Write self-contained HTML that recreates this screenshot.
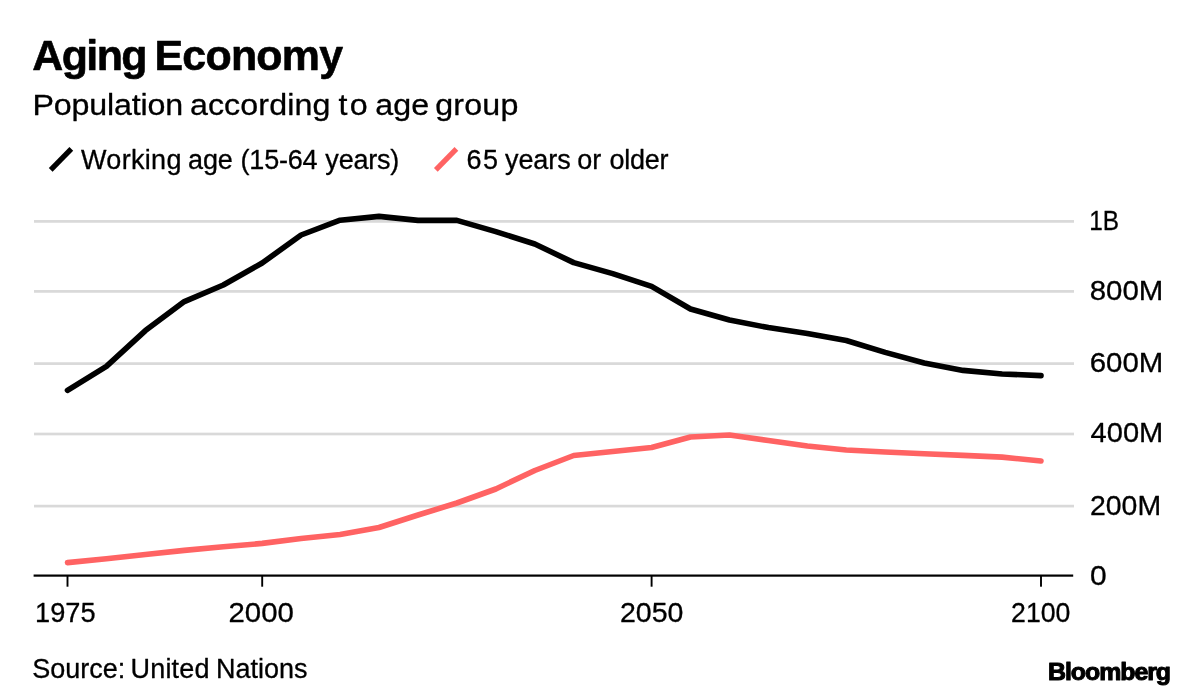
<!DOCTYPE html>
<html lang="en">
<head>
<meta charset="utf-8">
<title>Aging Economy</title>
<style>
html,body{margin:0;padding:0;background:#fff;}
body{width:1200px;height:700px;overflow:hidden;position:relative;}
svg{position:absolute;left:0;top:0;display:block;}
text{font-family:"Liberation Sans",sans-serif;fill:#000;white-space:pre;stroke:#000;stroke-width:0.3px;stroke-linejoin:round;}
</style>
</head>
<body>
<svg width="1200" height="700" viewBox="0 0 1200 700">
<rect width="1200" height="700" fill="#fff"/>
<g id="grid">
<rect x="34" y="220.05" width="1040" height="2.70" fill="#d9d9d9"/>
<rect x="34" y="290.05" width="1040" height="2.70" fill="#d9d9d9"/>
<rect x="34" y="362.25" width="1040" height="2.70" fill="#d9d9d9"/>
<rect x="34" y="432.65" width="1040" height="2.70" fill="#d9d9d9"/>
<rect x="34" y="504.75" width="1040" height="2.70" fill="#d9d9d9"/>
</g>
<g id="axis">
<rect x="33.6" y="574.5" width="1039.6" height="2.2" fill="#000"/>
<rect x="66.55" y="575" width="1.9" height="11.7" fill="#000"/>
<rect x="261.25" y="575" width="1.9" height="11.7" fill="#000"/>
<rect x="650.65" y="575" width="1.9" height="11.7" fill="#000"/>
<rect x="1040.05" y="575" width="1.9" height="11.7" fill="#000"/>
</g>
<polyline id="working" points="67.5,390.4 106.4,366.4 145.4,330.6 184.3,301.6 223.3,285.0 262.2,263.0 301.1,235.0 340.1,220.2 379.0,216.4 418.0,220.4 456.9,220.4 495.8,231.6 534.8,244.0 573.7,262.6 612.7,273.6 651.6,286.4 690.5,309.0 729.5,320.0 768.4,327.6 807.4,333.4 846.3,340.5 885.2,352.4 924.2,363.0 963.1,370.4 1002.1,374.0 1041.0,375.6" fill="none" stroke="#000" stroke-width="5.6" stroke-linecap="round" stroke-linejoin="round"/>
<polyline id="older" points="67.5,562.6 106.4,558.8 145.4,554.5 184.3,550.4 223.3,546.8 262.2,543.4 301.1,538.5 340.1,534.5 379.0,527.5 418.0,515.0 456.9,503.0 495.8,489.0 534.8,470.5 573.7,455.5 612.7,451.5 651.6,447.5 690.5,437.0 729.5,435.0 768.4,440.5 807.4,446.0 846.3,450.0 885.2,452.0 924.2,453.8 963.1,455.4 1002.1,457.1 1041.0,461.0" fill="none" stroke="#ff6363" stroke-width="5.6" stroke-linecap="round" stroke-linejoin="round"/>
<g id="legend">
<line x1="50.72" y1="169.94" x2="71.30" y2="148.84" stroke="#000" stroke-width="5.25"/>
<line x1="435.82" y1="169.94" x2="456.40" y2="148.84" stroke="#ff6363" stroke-width="5.25"/>
</g>
<g id="labels">
<text transform="translate(31.15,69.90) scale(1.0220,1)" font-size="42.0" font-weight="bold" letter-spacing="-0.988" word-spacing="-3.31" dx="1.08 -0.54 -0.54 -0.54 -0.54 0 0.39 0.23 0.23 0.23 0.23 0.23 0.23" style="stroke-width:0.6px">Aging Economy</text>
<text transform="translate(31.35,114.70) scale(1.0740,1)" font-size="30" word-spacing="-0.87" dx="1.12 -0.18 -0.18 -0.18 -0.18 -0.18 -0.18 -0.18 -0.18 -0.18 0 -1.12 0.09 0.09 0.09 0.09 0.09 0.09 0.09 0.09 0 0.09 2.23 0 -0.47 0 0 0 -1.77 0.19 0.19 0.19 0.19">Population according to age group</text>
<text transform="translate(83.03,168.60)" font-size="27" letter-spacing="-0.24" word-spacing="0.9" dx="-2 0.55 0.55 0.55 0.55 0.55 0.55 0 -1.3">Working age (15-64 years)</text>
<text transform="translate(467.09,168.60)" font-size="27" letter-spacing="0.01" word-spacing="-0.51" dx="-0.6 1.4 0 0.1 -0.12 -0.12 -0.12 -0.12 0 -0.4 0 0 1.1 -0.28 -0.28 -0.28 -0.28">65 years or older</text>
<text transform="translate(1089.26,229.80) scale(0.8901,1)" font-size="27.4">1B</text>
<text transform="translate(1089.75,300.00) scale(1.0740,1)" font-size="27.4">800M</text>
<text transform="translate(1089.75,372.20) scale(1.0740,1)" font-size="27.4">600M</text>
<text transform="translate(1090.55,442.20) scale(1.0618,1)" font-size="27.4">400M</text>
<text transform="translate(1089.99,515.00) scale(1.0372,1)" font-size="27.4">200M</text>
<text transform="translate(1089.93,585.30) scale(1.0945,1)" font-size="27.4">0</text>
<text transform="translate(35.06,622.00) scale(0.9923,1)" font-size="27.4">1975</text>
<text transform="translate(228.45,622.00) scale(1.0730,1)" font-size="27.4">2000</text>
<text transform="translate(619.98,622.00) scale(1.0423,1)" font-size="27.4">2050</text>
<text transform="translate(1011.05,622.00) scale(0.9739,1)" font-size="27.4">2100</text>
<text transform="translate(32.28,678.20)" font-size="27" letter-spacing="-0.02" word-spacing="-1.08" dx="0 0 0 0 0 0 0 0 -1.2 0.24 0.24 0.24 0.24 0.24">Source: United Nations</text>
<text transform="translate(1048.00,680.30) scale(1.0720,1)" font-size="23.2" font-weight="bold" letter-spacing="-0.95" style="stroke-width:1px">Bloomberg</text>
</g>
</svg>
</body>
</html>
